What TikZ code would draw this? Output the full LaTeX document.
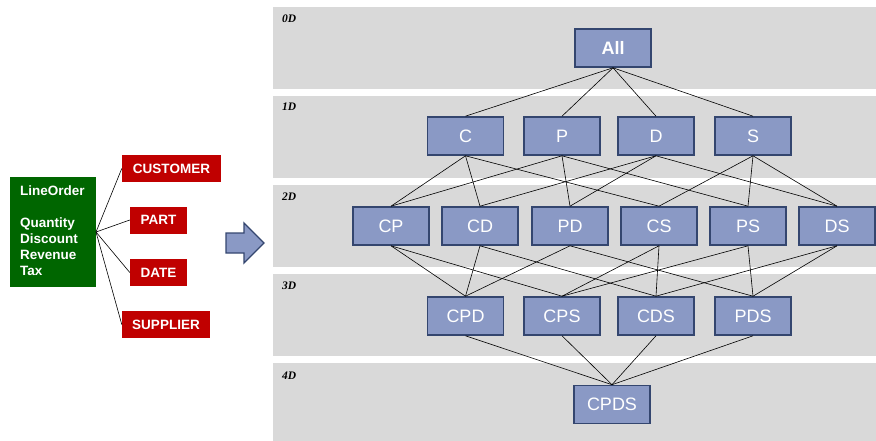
\documentclass[tikz,border=0pt]{standalone}
\usepackage{fontspec}
\setmainfont{Liberation Sans}
\newfontfamily\lblfont{Liberation Serif}
\definecolor{band}{HTML}{D9D9D9}
\definecolor{nodefill}{HTML}{8A99C5}
\definecolor{nodedraw}{HTML}{34466F}
\definecolor{factgreen}{HTML}{006600}
\definecolor{dimred}{HTML}{C00000}
\begin{document}
\begin{tikzpicture}[x=1pt,y=-1pt,
  cube/.style={draw=nodedraw, line width=1.6pt, fill=nodefill, minimum width=76pt, minimum height=38pt, inner sep=0pt, text=white, font=\fontsize{18}{20}\selectfont},
  dimbox/.style={fill=dimred, inner sep=0pt, text=white, font=\fontsize{13.5}{15}\selectfont\bfseries, minimum height=27pt},
  bandlbl/.style={anchor=west, inner sep=0pt, font=\lblfont\fontsize{11.5}{13}\selectfont\bfseries\itshape},
  link/.style={draw=black, line width=0.6pt},
]
\useasboundingbox (0,0) rectangle (876,441);
% bands
\fill[band] (273,7) rectangle (876,89);
\fill[band] (273,96) rectangle (876,178);
\fill[band] (273,185) rectangle (876,267);
\fill[band] (273,274) rectangle (876,356);
\fill[band] (273,363) rectangle (876,441);
\node[bandlbl] (l0) at (282,19) {0D};
\node[bandlbl] (l1) at (282,107) {1D};
\node[bandlbl] (l2) at (282,197) {2D};
\node[bandlbl] (l3) at (282,286) {3D};
\node[bandlbl] (l4) at (282,376) {4D};
% nodes
\node[cube, font=\fontsize{18}{20}\selectfont\bfseries] (All) at (613,48) {All};
\node[cube] (C) at (465.5,136) {C};
\node[cube] (P) at (562,136) {P};
\node[cube] (D) at (656,136) {D};
\node[cube] (S) at (753,136) {S};
\node[cube] (CP) at (391,226) {CP};
\node[cube] (CD) at (480,226) {CD};
\node[cube] (PD) at (570,226) {PD};
\node[cube] (CS) at (659,226) {CS};
\node[cube] (PS) at (748,226) {PS};
\node[cube] (DS) at (837,226) {DS};
\node[cube] (CPD) at (465.5,316) {CPD};
\node[cube] (CPS) at (562,316) {CPS};
\node[cube] (CDS) at (656,316) {CDS};
\node[cube] (PDS) at (753,316) {PDS};
\node[cube] (CPDS) at (612,404.5) {CPDS};
% links
\foreach \a/\b in {All/C,All/P,All/D,All/S,
  C/CP,C/CD,C/CS,P/CP,P/PD,P/PS,D/CD,D/PD,D/DS,S/CS,S/PS,S/DS,
  CP/CPD,CP/CPS,CD/CPD,CD/CDS,PD/CPD,PD/PDS,CS/CPS,CS/CDS,PS/CPS,PS/PDS,DS/CDS,DS/PDS,
  CPD/CPDS,CPS/CPDS,CDS/CPDS,PDS/CPDS}
  \draw[link] (\a.south) -- (\b.north);
% left: star schema
\node[fill=factgreen, minimum width=86pt, minimum height=110pt, inner sep=0pt] (fact) at (53,232) {};
\node[anchor=north west, inner sep=0pt, text=white, align=left, font=\fontsize{13.5}{16}\selectfont\bfseries] (facttxt) at (20,186) {LineOrder\\[16pt]Quantity\\Discount\\Revenue\\Tax};
\coordinate (hub) at (96,232);
\node[dimbox, minimum width=99pt] (cust) at (171.5,168.5) {CUSTOMER};
\node[dimbox, minimum width=57pt] (part) at (158.5,220) {PART};
\node[dimbox, minimum width=57pt] (date) at (158.5,272.5) {DATE};
\node[dimbox, minimum width=88pt] (supp) at (166,324.5) {SUPPLIER};
\foreach \d in {cust,part,date,supp}
  \draw[link] (hub) -- (\d.west);
% block arrow
\draw[draw=nodedraw, line width=1.4pt, fill=nodefill, line join=miter]
  (226,233) -- (244,233) -- (244,223) -- (264,243) -- (244,263) -- (244,253) -- (226,253) -- cycle;
\end{tikzpicture}
\end{document}
